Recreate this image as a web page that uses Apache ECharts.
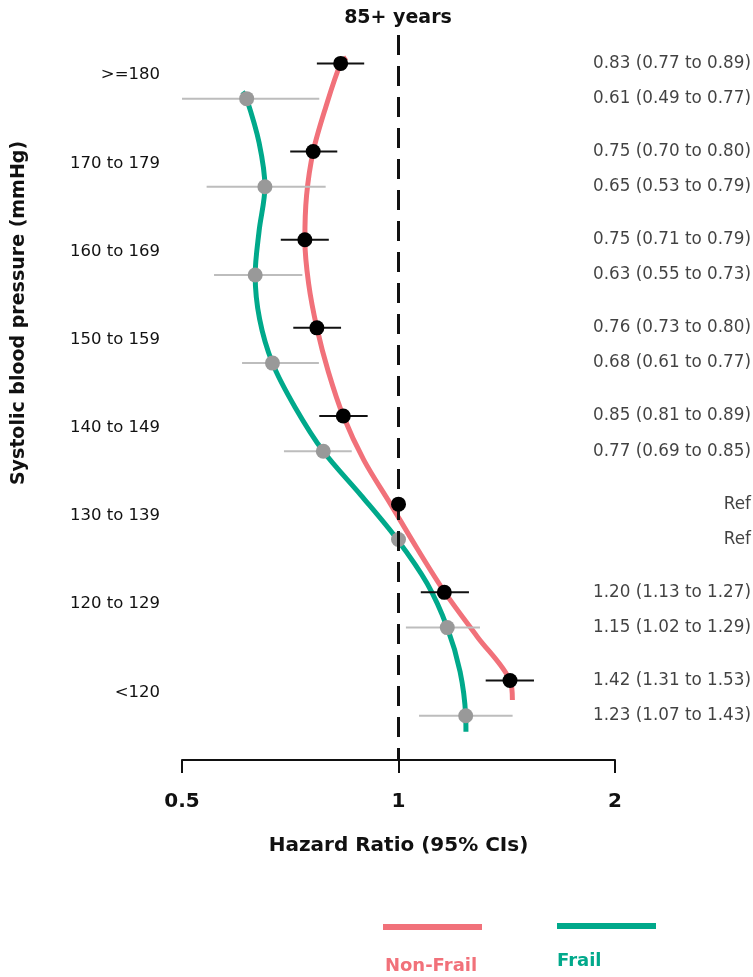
<!DOCTYPE html>
<html>
<head>
<meta charset="utf-8">
<script src="https://cdn.jsdelivr.net/npm/echarts@6/dist/echarts.min.js"></script>
<style>html,body{margin:0;padding:0;background:#fff;}#chart{width:753px;height:977px;}</style>
</head>
<body>
<div id="chart"></div>
<script>
// ---- data ----
const categories = ['>=180', '170 to 179', '160 to 169', '150 to 159', '140 to 149', '130 to 139', '120 to 129', '<120'];
const nonFrailHR   = [0.831, 0.761, 0.741, 0.770, 0.838, 1.000, 1.158, 1.429];
const nonFrailLow  = [0.770, 0.707, 0.686, 0.714, 0.776, null, 1.074, 1.322];
const nonFrailHigh = [0.896, 0.822, 0.800, 0.832, 0.906, null, 1.253, 1.543];
const frailHR   = [0.615, 0.652, 0.632, 0.668, 0.786, 1.000, 1.169, 1.240];
const frailLow  = [0.49, 0.541, 0.554, 0.606, 0.693, null, 1.024, 1.068];
const frailHigh = [0.776, 0.792, 0.735, 0.775, 0.861, null, 1.298, 1.441];
const nonFrailText = ['0.83 (0.77 to 0.89)', '0.75 (0.70 to 0.80)', '0.75 (0.71 to 0.79)', '0.76 (0.73 to 0.80)', '0.85 (0.81 to 0.89)', 'Ref', '1.20 (1.13 to 1.27)', '1.42 (1.31 to 1.53)'];
const frailText    = ['0.61 (0.49 to 0.77)', '0.65 (0.53 to 0.79)', '0.63 (0.55 to 0.73)', '0.68 (0.61 to 0.77)', '0.77 (0.69 to 0.85)', 'Ref', '1.15 (1.02 to 1.29)', '1.23 (1.07 to 1.43)'];
// fitted spline, HR sampled every half category (first row to last row)
const nonFrailCurve = [0.831, 0.792, 0.761, 0.745, 0.741, 0.750, 0.770, 0.799, 0.838, 0.895, 0.975, 1.061, 1.160, 1.286, 1.429];
const frailCurve    = [0.615, 0.640, 0.652, 0.640, 0.632, 0.641, 0.668, 0.718, 0.786, 0.887, 0.996, 1.096, 1.169, 1.218, 1.240];
// spline end values (HR where the drawn curves begin / end)
const nonFrailCurveEnds = [0.847, 1.440];
const frailCurveEnds    = [0.607, 1.241];
const xTicks = [0.5, 1, 2];
const refValue = 1;
const titleText = '85+ years';
const xName = 'Hazard Ratio (95% CIs)';
const yName = 'Systolic blood pressure (mmHg)';
const seriesNames = ['Non-Frail', 'Frail'];

// ---- layout ----
const FONT = "'DejaVu Sans', sans-serif";
const RED = '#F1717A', TEAL = '#00A98B';
const OFF = 0.2;            // row offset of the two groups
const LABEL_SHIFT = -0.066; // category label offset
const Y_MIN = -0.522, Y_MAX = 7.702;
const GRID = {left: 182, right: 138, top: 35, bottom: 217};
const SMOOTH = 0.33;
const nfPos = i => i - OFF;
const frPos = i => i + OFF;

const nfCurve = [[nonFrailCurveEnds[0], nfPos(0) - 0.067]]
  .concat(nonFrailCurve.map((v, k) => [v, nfPos(k / 2)]))
  .concat([[nonFrailCurveEnds[1], nfPos(7) + 0.222]]);
const frCurve = [[frailCurveEnds[0], frPos(0) - 0.079]]
  .concat(frailCurve.map((v, k) => [v, frPos(k / 2)]))
  .concat([[frailCurveEnds[1], frPos(7) + 0.181]]);

const nfBars = nonFrailLow.map((lo, i) => lo == null ? null : [lo, nonFrailHigh[i], nfPos(i)]).filter(d => d);
const frBars = frailLow.map((lo, i) => lo == null ? null : [lo, frailHigh[i], frPos(i)]).filter(d => d);

function barRenderer(color) {
  return function (params, api) {
    const a = api.coord([api.value(0), api.value(2)]);
    const b = api.coord([api.value(1), api.value(2)]);
    const cs = params.coordSys;
    const x1 = Math.max(a[0], cs.x), x2 = Math.min(b[0], cs.x + cs.width);
    return {type: 'line', shape: {x1: x1, y1: a[1], x2: x2, y2: b[1]},
      style: {stroke: color, lineWidth: 2}};
  };
}

const textData = [];
nonFrailText.forEach((t, i) => textData.push([1, nfPos(i), t]));
frailText.forEach((t, i) => textData.push([1, frPos(i), t]));

const chart = echarts.init(document.getElementById('chart'), null, {renderer: 'canvas'});
chart.setOption({
  animation: false,
  backgroundColor: '#fff',
  textStyle: {fontFamily: FONT},
  grid: [
    {left: GRID.left, right: GRID.right, top: GRID.top, bottom: GRID.bottom},
    {left: 616, right: 2, top: GRID.top, bottom: GRID.bottom}
  ],
  xAxis: [{
    type: 'log', logBase: 2, min: xTicks[0], max: xTicks[xTicks.length - 1], interval: 1,
    gridIndex: 0, position: 'bottom',
    name: xName, nameLocation: 'middle', nameGap: 76,
    nameTextStyle: {fontFamily: FONT, fontWeight: 'bold', fontSize: 20, color: '#111'},
    axisLine: {show: true, onZero: false, lineStyle: {color: '#111', width: 2}},
    axisTick: {show: true, length: 13, lineStyle: {color: '#111', width: 2}},
    axisLabel: {margin: 32, fontFamily: FONT, fontWeight: 'bold', fontSize: 20, color: '#111',
      formatter: v => String(+v.toFixed(2))},
    splitLine: {show: false}, minorTick: {show: false}
  }, {
    type: 'value', gridIndex: 1, min: 0, max: 1, show: false
  }],
  yAxis: [{
    type: 'value', gridIndex: 0, inverse: true, min: Y_MIN, max: Y_MAX,
    axisLine: {show: false}, axisTick: {show: false}, splitLine: {show: false},
    axisLabel: {
      show: true, margin: 22, fontFamily: FONT, fontSize: 16.5, color: '#111',
      customValues: categories.map((c, i) => i + LABEL_SHIFT),
      formatter: v => categories[Math.round(v - LABEL_SHIFT)] || ''
    }
  }, {
    type: 'value', gridIndex: 1, inverse: true, min: Y_MIN, max: Y_MAX, show: false
  }],
  graphic: [
    {type: 'text', x: 398, y: 18, style: {text: titleText, font: 'bold 19px ' + FONT, fill: '#111', align: 'center', verticalAlign: 'middle', textAlign: 'center', textVerticalAlign: 'middle'}},
    {type: 'text', x: 19, y: 313, rotation: Math.PI / 2,
      style: {text: yName, font: 'bold 19px ' + FONT, fill: '#111', align: 'center', verticalAlign: 'middle', textAlign: 'center', textVerticalAlign: 'middle'}},
    {type: 'line', shape: {x1: 383, y1: 927, x2: 482, y2: 927}, style: {stroke: RED, lineWidth: 6}},
    {type: 'text', x: 431, y: 966, style: {text: seriesNames[0], font: 'bold 18px ' + FONT, fill: RED, align: 'center', verticalAlign: 'middle', textAlign: 'center', textVerticalAlign: 'middle'}},
    {type: 'line', shape: {x1: 557, y1: 926, x2: 656, y2: 926}, style: {stroke: TEAL, lineWidth: 6}},
    {type: 'text', x: 557, y: 961, style: {text: seriesNames[1], font: 'bold 18px ' + FONT, fill: TEAL, align: 'left', verticalAlign: 'middle', textAlign: 'left', textVerticalAlign: 'middle'}}
  ],
  series: [
    {
      type: 'line', xAxisIndex: 0, yAxisIndex: 0, data: [], z: 1, silent: true,
      markLine: {silent: true, symbol: 'none', label: {show: false},
        lineStyle: {color: '#111', width: 3, type: [20, 11]},
        data: [{xAxis: refValue}]}
    },
    {name: seriesNames[0], type: 'line', xAxisIndex: 0, yAxisIndex: 0, data: nfCurve, smooth: SMOOTH,
      showSymbol: false, symbol: 'none', lineStyle: {color: RED, width: 5}, z: 2},
    {name: seriesNames[1], type: 'line', xAxisIndex: 0, yAxisIndex: 0, data: frCurve, smooth: SMOOTH,
      showSymbol: false, symbol: 'none', lineStyle: {color: TEAL, width: 5}, z: 2},
    {type: 'custom', xAxisIndex: 0, yAxisIndex: 0, data: frBars, renderItem: barRenderer('#BDBDBD'),
      encode: {x: [0, 1], y: 2}, z: 3},
    {type: 'custom', xAxisIndex: 0, yAxisIndex: 0, data: nfBars, renderItem: barRenderer('#111'),
      encode: {x: [0, 1], y: 2}, z: 3},
    {type: 'scatter', xAxisIndex: 0, yAxisIndex: 0, data: frailHR.map((v, i) => [v, frPos(i)]),
      symbolSize: 15, itemStyle: {color: '#999999', opacity: 1}, z: 4},
    {type: 'scatter', xAxisIndex: 0, yAxisIndex: 0, data: nonFrailHR.map((v, i) => [v, nfPos(i)]),
      symbolSize: 15, itemStyle: {color: '#000', opacity: 1}, z: 5},
    {type: 'scatter', xAxisIndex: 1, yAxisIndex: 1, data: textData, symbolSize: 0, z: 5,
      label: {show: true, position: 'left', distance: 0, formatter: p => p.data[2],
        fontFamily: FONT, fontSize: 16.8, color: '#111'}}
  ]
});
</script>
</body>
</html>
